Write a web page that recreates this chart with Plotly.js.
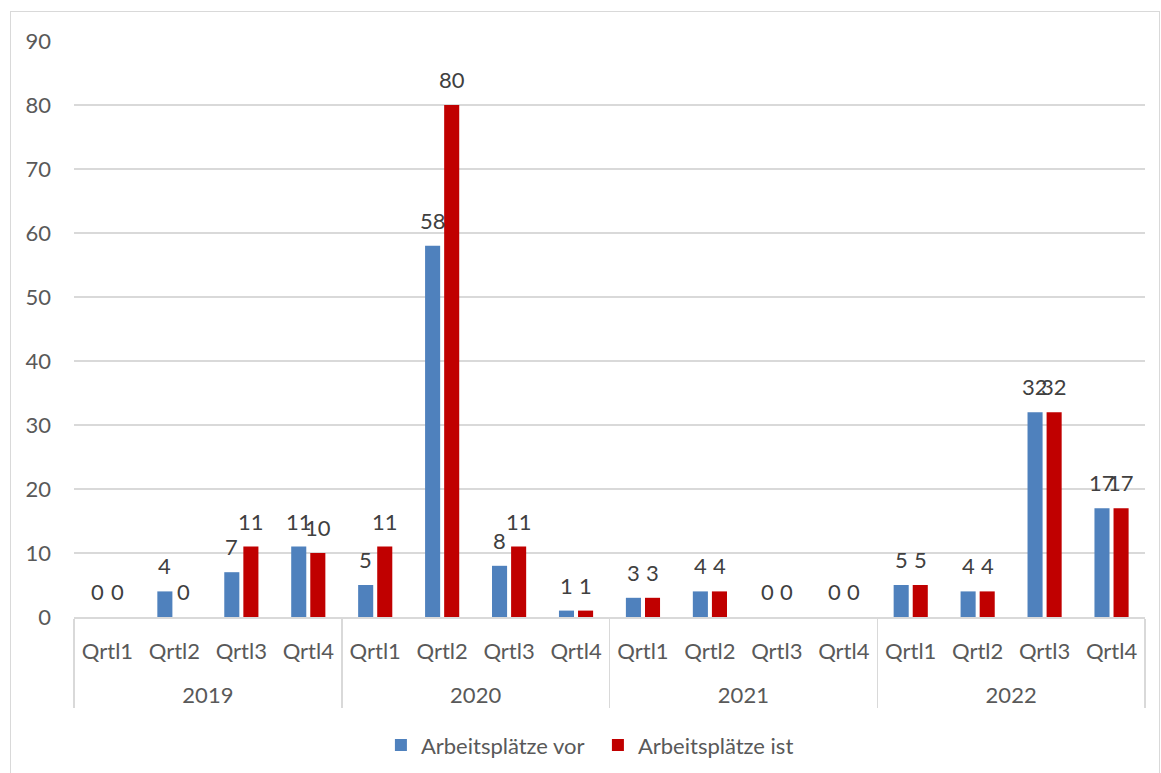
<!DOCTYPE html>
<html>
<head>
<meta charset="utf-8">
<script src="https://cdn.plot.ly/plotly-3.0.1.min.js"></script>
<style>
  html, body { margin: 0; padding: 0; background: #fff; }
  #frame { position: absolute; left: 10px; top: 11px; width: 1148px; height: 800px; border: 1px solid #d9d9d9; }
  #chart { position: absolute; left: 0; top: 0; width: 1161px; height: 773px; }
</style>
</head>
<body>
<div id="frame"></div>
<div id="chart"></div>
<script>
// Jobs per quarter, 2019–2022
const years = ['2019', '2020', '2021', '2022'];
const quarters = ['Qrtl1', 'Qrtl2', 'Qrtl3', 'Qrtl4'];
const seriesNames = ['Arbeitsplätze vor', 'Arbeitsplätze ist'];
const vorValues = [0, 4, 7, 11, 5, 58, 8, 1, 3, 4, 0, 0, 5, 4, 32, 17];
const istValues = [0, 0, 11, 10, 11, 80, 11, 1, 3, 4, 0, 0, 5, 4, 32, 17];

const colors = ['#4f81bd', '#c00000'];
const textColor = '#404040';
const axisColor = '#595959';
const font = 'Lato, "Open Sans", sans-serif';

// two-level category axis: year / quarter (year row pushed down one line)
const yearLevel = [];
const quarterLevel = [];
years.forEach(y => quarters.forEach(q => { yearLevel.push('<br>' + y); quarterLevel.push(q); }));

const bargap = 0.43;
const traces = [vorValues, istValues].map((vals, k) => ({
  type: 'bar',
  name: seriesNames[k],
  x: [yearLevel, quarterLevel],
  y: vals,
  marker: { color: colors[k] },
  hoverinfo: 'y+name'
}));

// value labels above each bar, offset to the bar's slot within the group
const half = (1 - bargap) / 4;
const annotations = [];
[vorValues, istValues].forEach((vals, k) => {
  vals.forEach((v, i) => {
    annotations.push({
      x: i + (k === 0 ? -half : half),
      y: v,
      xref: 'x', yref: 'y',
      text: String(v),
      showarrow: false,
      yanchor: 'bottom',
      yshift: 10,
      font: { family: font, size: 22, color: textColor }
    });
  });
});

const layout = {
  width: 1161,
  height: 773,
  margin: { l: 74, r: 16, t: 41, b: 156 },
  paper_bgcolor: 'rgba(0,0,0,0)',
  plot_bgcolor: 'rgba(0,0,0,0)',
  barmode: 'group',
  bargap: bargap,
  bargroupgap: 0.21,
  showlegend: true,
  legend: {
    orientation: 'h',
    x: 0.515, xanchor: 'center', xref: 'container',
    y: 0.036, yanchor: 'middle', yref: 'container',
    font: { family: font, size: 22, color: axisColor },
    itemwidth: 30,
    entrywidth: 172,
    traceorder: 'normal'
  },
  xaxis: {
    type: 'multicategory',
    automargin: false,
    showline: true,
    linecolor: '#d9d9d9',
    linewidth: 1.5,
    ticks: '',
    ticklabelstandoff: 14,
    showdividers: true,
    dividercolor: '#d9d9d9',
    dividerwidth: 1.5,
    tickfont: { family: font, size: 22, color: axisColor },
    fixedrange: true
  },
  yaxis: {
    automargin: false,
    range: [0, 90],
    dtick: 10,
    showgrid: true,
    gridcolor: '#d9d9d9',
    gridwidth: 1.5,
    zeroline: false,
    showline: false,
    ticks: '',
    ticklabelstandoff: 22,
    tickfont: { family: font, size: 22, color: axisColor },
    fixedrange: true
  },
  annotations: annotations
};

Plotly.newPlot('chart', traces, layout, { displayModeBar: false, staticPlot: true });
</script>
</body>
</html>
